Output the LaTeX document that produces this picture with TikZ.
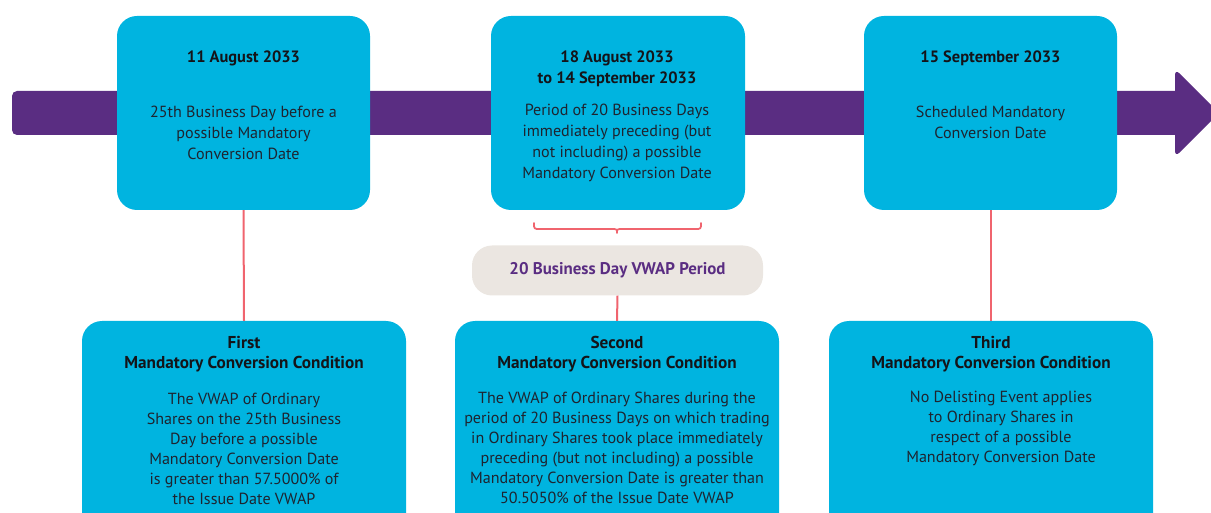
\documentclass[tikz,border=0pt]{standalone}
\usepackage{fontspec}
\setmainfont{PT Sans}
\definecolor{cyanbox}{RGB}{0,180,224}
\definecolor{barpurple}{RGB}{90,45,130}
\definecolor{linered}{RGB}{240,100,110}
\definecolor{pillfill}{RGB}{235,230,225}
\definecolor{textdark}{RGB}{30,36,48}
\definecolor{titledark}{RGB}{20,20,25}
\begin{document}
\begin{tikzpicture}[x=1pt,y=-1pt,
  topbox/.style={fill=cyanbox,rounded corners=20pt,minimum width=253pt,minimum height=194pt,inner sep=0pt},
  botbox/.style={fill=cyanbox,rounded corners=20pt,minimum width=324pt,minimum height=219pt,inner sep=0pt},
  pillbox/.style={fill=pillfill,rounded corners=20pt,minimum width=291pt,minimum height=50pt,inner sep=0pt,
     font=\fontsize{16.9}{19}\selectfont\bfseries,text=barpurple},
  ttl/.style={inner sep=0pt,align=center,text=titledark,font=\fontsize{16.4}{21}\selectfont\bfseries},
  bdy/.style={inner sep=0pt,align=center,text=textdark,font=\fontsize{16.1}{21}\selectfont},
  bttl/.style={inner sep=0pt,align=center,text=titledark,font=\fontsize{17.2}{20}\selectfont\bfseries},
  bbdy/.style={inner sep=0pt,align=center,text=textdark,font=\fontsize{16.1}{20}\selectfont},
  redline/.style={draw=linered,line width=2pt}]
\clip (0,0) rectangle (1211,513);
\useasboundingbox (0,0) rectangle (1211,513);
% timeline arrow
\fill[barpurple,rounded corners=5pt] (12,91) rectangle (1185,135);
\fill[barpurple,rounded corners=6pt] (1175,69) -- (1219,113) -- (1175,157) -- cycle;
% top boxes
\node[topbox] (d1) at (243.5,113) {};
\node[topbox,minimum width=254pt] (d2) at (618,113) {};
\node[topbox] (d3) at (990.5,113) {};
\node[ttl] (d1t) at (243.5,58.5) {11 August 2033};
\node[bdy] (d1b) at (243.5,132.5) {25th Business Day before a\\possible Mandatory\\Conversion Date};
\node[ttl] (d2t) at (617,69) {18 August 2033\\to 14 September 2033};
\node[bdy] (d2b) at (617,143) {Period of 20 Business Days\\immediately preceding (but\\not including) a possible\\Mandatory Conversion Date};
\node[ttl] (d3t) at (990.5,58.5) {15 September 2033};
\node[bdy] (d3b) at (990.5,122) {Scheduled Mandatory\\Conversion Date};
% bottom boxes
\node[botbox] (c1) at (244,430.5) {};
\node[botbox] (c2) at (617,430.5) {};
\node[botbox] (c3) at (991,430.5) {};
\node[pillbox] (pill) at (617.5,270.5) {20 Business Day VWAP Period};
% connectors
\draw[redline] (d1.south) -- (c1.north);
\draw[redline] (d3.south -| c3.north) -- (c3.north);
\draw[redline] (pill.south) -- (c2.north);
\coordinate (brL) at (534,223);
\coordinate (brR) at (701,223);
\coordinate (brM) at (617,233);
\draw[redline,line width=1.8pt,line cap=round,line join=round]
  (brL) .. controls (534,229) .. (540,229) -- (611,229) .. controls (617,229) .. (brM)
  .. controls (617,229) .. (623,229) -- (695,229) .. controls (701,229) .. (brR);
% bottom texts
\node[bttl] (c1t) at (244,354.5) {First\\Mandatory Conversion Condition};
\node[bbdy] (c1b) at (244,448.5) {The VWAP of Ordinary\\Shares on the 25th Business\\Day before a possible\\Mandatory Conversion Date\\is greater than 57.5000\% of\\the Issue Date VWAP};
\node[bttl] (c2t) at (617,354.5) {Second\\Mandatory Conversion Condition};
\node[bbdy] (c2b) at (617,448) {The VWAP of Ordinary Shares during the\\period of 20 Business Days on which trading\\in Ordinary Shares took place immediately\\preceding (but not including) a possible\\Mandatory Conversion Date is greater than\\50.5050\% of the Issue Date VWAP};
\node[bttl] (c3t) at (991,354.5) {Third\\Mandatory Conversion Condition};
\node[bbdy] (c3b) at (1001,428.5) {No Delisting Event applies\\to Ordinary Shares in\\respect of a possible\\Mandatory Conversion Date};
\end{tikzpicture}
\end{document}
